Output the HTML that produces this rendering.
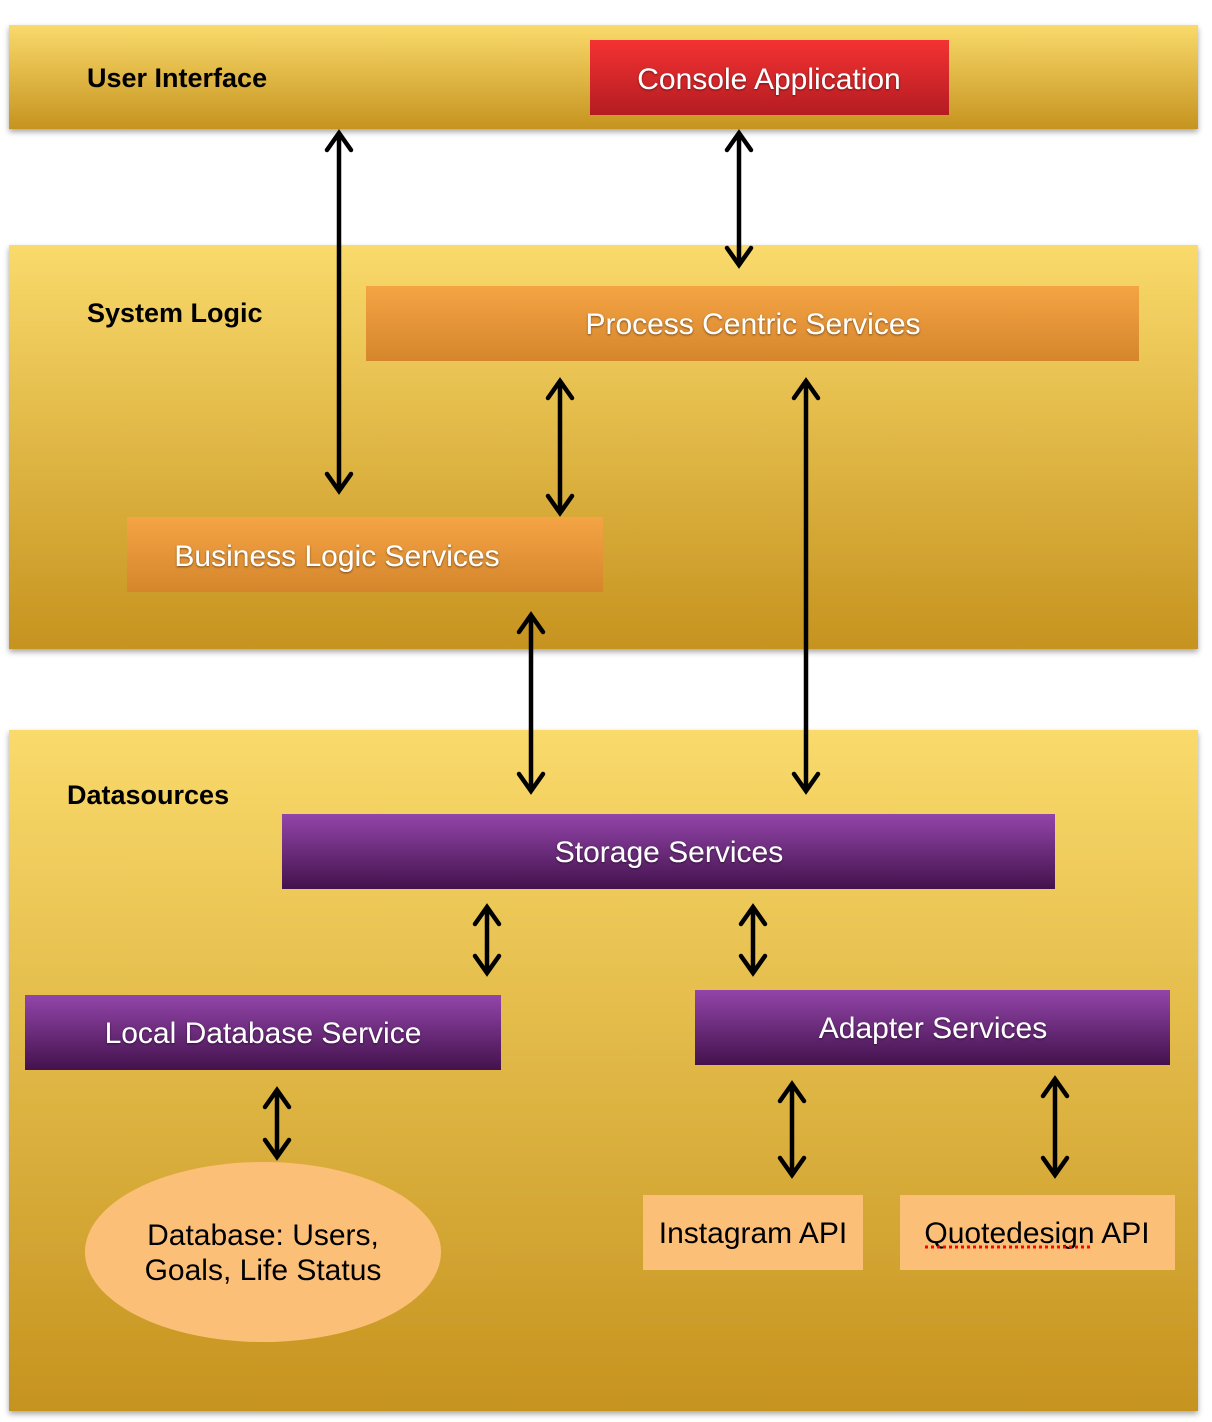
<!DOCTYPE html>
<html><head><meta charset="utf-8"><style>
html,body{margin:0;padding:0;background:#fff;width:1212px;height:1422px;overflow:hidden}
svg{display:block}
text{font-family:"Liberation Sans",sans-serif}
</style></head><body>
<svg width="1212" height="1422" viewBox="0 0 1212 1422" xmlns="http://www.w3.org/2000/svg">
<defs>
<linearGradient id="gold" x1="0" y1="0" x2="0" y2="1"><stop offset="0" stop-color="#f9da6b"/><stop offset="1" stop-color="#c6931f"/></linearGradient>
<linearGradient id="red" x1="0" y1="0" x2="0" y2="1"><stop offset="0" stop-color="#f43232"/><stop offset="1" stop-color="#b41c22"/></linearGradient>
<linearGradient id="org" x1="0" y1="0" x2="0" y2="1"><stop offset="0" stop-color="#f5a444"/><stop offset="1" stop-color="#d5862c"/></linearGradient>
<linearGradient id="pur" x1="0" y1="0" x2="0" y2="1"><stop offset="0" stop-color="#9345aa"/><stop offset="1" stop-color="#43124c"/></linearGradient>
<filter id="sh" x="-5%" y="-5%" width="110%" height="115%"><feDropShadow dx="0" dy="3" stdDeviation="3" flood-opacity="0.35"/></filter>
<filter id="ts"><feDropShadow dx="0" dy="1" stdDeviation="1" flood-opacity="0.5"/></filter>
</defs>
<rect x="9" y="25" width="1189" height="104" fill="url(#gold)" filter="url(#sh)"/>
<rect x="9" y="245" width="1189" height="404" fill="url(#gold)" filter="url(#sh)"/>
<rect x="9" y="730" width="1189" height="681" fill="url(#gold)" filter="url(#sh)"/>
<g font-weight="bold" font-size="27" fill="#000">
<text x="87" y="87">User Interface</text>
<text x="87" y="322">System Logic</text>
<text x="67" y="804">Datasources</text>
</g>
<rect x="590" y="40" width="359" height="75" fill="url(#red)"/>
<rect x="366" y="286" width="773" height="75" fill="url(#org)"/>
<rect x="127" y="517" width="476" height="75" fill="url(#org)"/>
<rect x="282" y="814" width="773" height="75" fill="url(#pur)"/>
<rect x="25" y="995" width="476" height="75" fill="url(#pur)"/>
<rect x="695" y="990" width="475" height="75" fill="url(#pur)"/>
<g fill="#fff" font-size="30" text-anchor="middle" filter="url(#ts)">
<text x="769" y="89">Console Application</text>
<text x="753" y="334">Process Centric Services</text>
<text x="337" y="566">Business Logic Services</text>
<text x="669" y="862">Storage Services</text>
<text x="263" y="1043">Local Database Service</text>
<text x="933" y="1038">Adapter Services</text>
</g>
<ellipse cx="263" cy="1252" rx="178" ry="90" fill="#fcbf78"/>
<rect x="643" y="1195" width="220" height="75" fill="#fcbf78"/>
<rect x="900" y="1195" width="275" height="75" fill="#fcbf78"/>
<g fill="#000" font-size="30" text-anchor="middle">
<text x="263" y="1245">Database: Users,</text>
<text x="263" y="1280">Goals, Life Status</text>
<text x="753" y="1243">Instagram API</text>
<text x="1037" y="1243">Quotedesign API</text>
</g>
<line x1="925" y1="1247" x2="1090" y2="1247" stroke="#f00" stroke-width="3" stroke-dasharray="3,3"/>
<g stroke="#000" stroke-width="4.5" fill="none" stroke-linecap="round">
<path d="M339 133V491M327 150L339 133L351 150M327 474L339 491L351 474"/>
<path d="M739 133V265M727 150L739 133L751 150M727 248L739 265L751 248"/>
<path d="M560 381V513M548 398L560 381L572 398M548 496L560 513L572 496"/>
<path d="M806 381V791M794 398L806 381L818 398M794 774L806 791L818 774"/>
<path d="M531 615V791M519 632L531 615L543 632M519 774L531 791L543 774"/>
<path d="M487 907V973M475 924L487 907L499 924M475 956L487 973L499 956"/>
<path d="M753 907V973M741 924L753 907L765 924M741 956L753 973L765 956"/>
<path d="M277 1090V1157M265 1107L277 1090L289 1107M265 1140L277 1157L289 1140"/>
<path d="M792 1084V1175M780 1101L792 1084L804 1101M780 1158L792 1175L804 1158"/>
<path d="M1055 1079V1175M1043 1096L1055 1079L1067 1096M1043 1158L1055 1175L1067 1158"/>
</g>
</svg>
</body></html>
